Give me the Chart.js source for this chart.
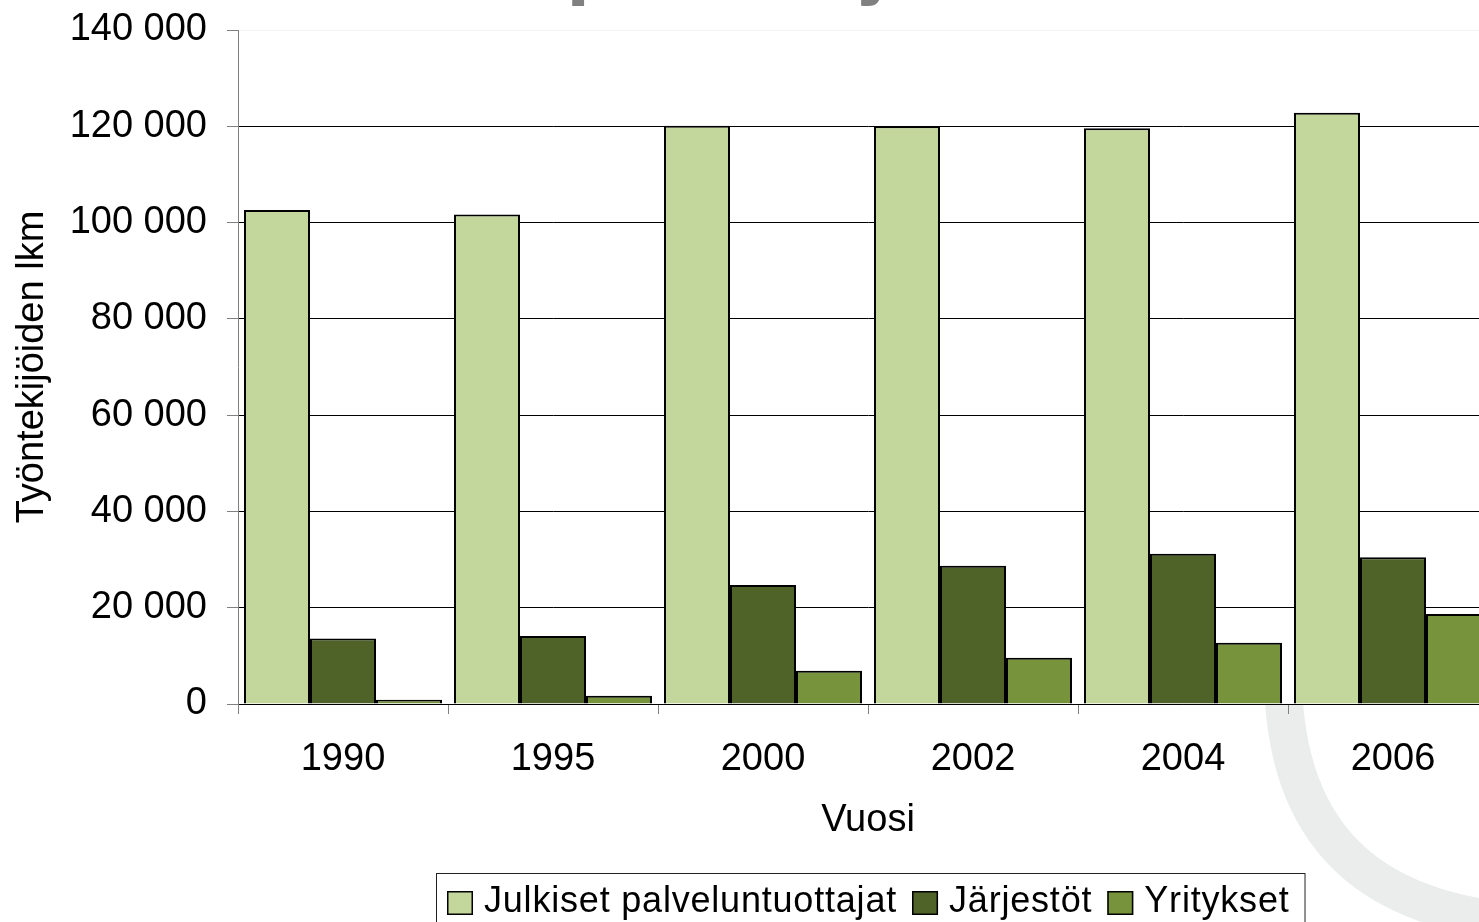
<!DOCTYPE html>
<html>
<head>
<meta charset="utf-8">
<script src="https://cdn.jsdelivr.net/npm/chart.js@4.4.1/dist/chart.umd.min.js"></script>
<style>
html,body{margin:0;padding:0;overflow:hidden;background:#fff;width:1479px;height:922px}
#wrap{position:absolute;left:0;top:0;width:1560px;height:960px}
</style>
</head>
<body>
<div id="wrap"><canvas id="c" width="1560" height="960"></canvas></div>
<script>
// ---- data ----
const years = ['1990', '1995', '2000', '2002', '2004', '2006'];
const julkiset = [102600, 101700, 120100, 120000, 119600, 122800];
const jarjestot = [13600, 14100, 24700, 28700, 31200, 30500];
const yritykset = [900, 1700, 6900, 9600, 12700, 18700];
const seriesNames = ['Julkiset palveluntuottajat', 'Järjestöt', 'Yritykset'];
const yTicks = [0, 20000, 40000, 60000, 80000, 100000, 120000, 140000];
const chartTitle = 'Sosiaalipalvelujen henkilöstö';
const yTitle = 'Työntekijöiden lkm';
const xTitle = 'Vuosi';

// ---- styles ----
const FAMILY = '"Liberation Sans", Arial, sans-serif';
const seriesColors = ['#C3D69B', '#4F6228', '#77933C'];
const fmt = v => String(v).replace(/\B(?=(\d{3})+(?!\d))/g, ' ');

const backdrop = {
  id: 'backdrop',
  beforeDraw(chart) {
    const ctx = chart.ctx, a = chart.chartArea;
    ctx.save();
    ctx.fillStyle = '#fff';
    ctx.fillRect(0, 0, chart.width, chart.height);
    // decorative background arc
    ctx.strokeStyle = '#EBEDED';
    ctx.lineWidth = 38;
    ctx.beginPath();
    ctx.moveTo(1283, 680);
    ctx.bezierCurveTo(1286, 850, 1385, 910, 1515, 922);
    ctx.stroke();
    // plot area fill
    ctx.fillStyle = '#fff';
    ctx.fillRect(a.left, a.top, a.right - a.left, a.bottom - a.top);
    ctx.restore();
  }
};

const topTitle = {
  id: 'topTitle',
  afterDraw(chart) {
    const ctx = chart.ctx;
    ctx.save();
    ctx.font = 'bold 86px ' + FAMILY;
    ctx.fillStyle = '#808080';
    ctx.textAlign = 'center';
    ctx.textBaseline = 'alphabetic';
    ctx.fillText(chartTitle, 841, -12);
    ctx.restore();
  }
};

const boxLegend = {
  id: 'boxLegend',
  afterDraw(chart) {
    const ctx = chart.ctx, a = chart.chartArea;
    const ds = chart.data.datasets;
    ctx.save();
    ctx.font = '36px ' + FAMILY;
    ctx.letterSpacing = '0.8px';
    const sw = 26, sh = 24, gapText = 11, gapItem = 15;
    const widths = ds.map(d => ctx.measureText(d.label).width);
    let total = 0;
    widths.forEach((w, i) => { total += sw + gapText + w + (i < widths.length - 1 ? gapItem : 0); });
    const cx = (a.left + a.right) / 2;
    const top = chart.scales.x.bottom + 29;
    const left = Math.round(cx - total / 2);
    const bl = left - 11, br = left + total + 15;
    ctx.fillStyle = '#fff';
    ctx.fillRect(bl, top, br - bl, 120);
    ctx.strokeStyle = '#222';
    ctx.lineWidth = 1;
    ctx.strokeRect(bl + 0.5, top + 0.5, br - bl, 120);
    let x = left;
    ds.forEach((d, i) => {
      ctx.fillStyle = d.backgroundColor;
      ctx.fillRect(x, top + 18, sw, sh);
      ctx.strokeStyle = '#000';
      ctx.lineWidth = 1.5;
      ctx.strokeRect(x + 0.75, top + 18.75, sw - 1.5, sh - 1.5);
      ctx.fillStyle = '#000';
      ctx.textAlign = 'left';
      ctx.textBaseline = 'alphabetic';
      ctx.fillText(d.label, x + sw + gapText, top + 39);
      x += sw + gapText + widths[i] + gapItem;
    });
    ctx.restore();
  }
};

new Chart(document.getElementById('c'), {
  type: 'bar',
  data: {
    labels: years,
    datasets: [
      { label: seriesNames[0], data: julkiset, backgroundColor: seriesColors[0] },
      { label: seriesNames[1], data: jarjestot, backgroundColor: seriesColors[1] },
      { label: seriesNames[2], data: yritykset, backgroundColor: seriesColors[2] }
    ].map(d => Object.assign(d, { borderColor: '#000', borderWidth: 2, categoryPercentage: 0.943, barPercentage: 1.0 }))
  },
  plugins: [backdrop, topTitle, boxLegend],
  options: {
    responsive: false,
    animation: false,
    devicePixelRatio: 1,
    layout: { padding: { left: 0, right: 62, top: 30, bottom: 116 } },
    plugins: {
      legend: { display: false },
      title: { display: false },
      tooltip: { enabled: false }
    },
    scales: {
      x: {
        grid: { offset: true, drawOnChartArea: false, drawTicks: true, tickLength: 10, color: '#808080' },
        border: { display: true, color: '#000', width: 1 },
        ticks: { font: { size: 38, family: FAMILY }, color: '#000', padding: 23, maxRotation: 0, autoSkip: false },
        title: { display: true, text: xTitle, font: { size: 38, family: FAMILY }, color: '#000', padding: { top: 0, bottom: 1 } },
        afterFit: s => { s.height = 140; s.paddingLeft = 0; s.paddingRight = 0; }
      },
      y: {
        min: 0,
        max: 140000,
        afterBuildTicks: s => { s.ticks = yTicks.map(v => ({ value: v })); },
        grid: {
          color: c => (c.tick && c.tick.value === 140000) ? '#f2f2f2' : '#000',
          tickColor: '#808080',
          tickLength: 11,
          drawTicks: true
        },
        border: { display: true, color: '#808080', width: 1 },
        ticks: { font: { size: 38, family: FAMILY }, color: '#000', padding: 20, callback: v => fmt(v) },
        title: { display: true, text: yTitle, font: { size: 38, family: FAMILY }, color: '#000', padding: { top: 10, bottom: 0 } },
        afterFit: s => { s.width = 238; s.paddingTop = 0; s.paddingBottom = 0; }
      }
    }
  }
});
</script>
</body>
</html>
